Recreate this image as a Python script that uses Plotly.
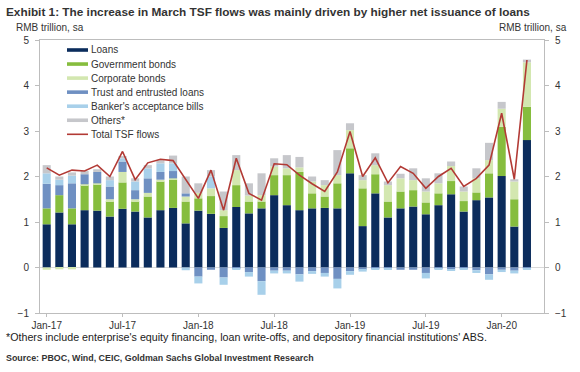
import plotly.graph_objects as go

months = ["Jan-17","Feb-17","Mar-17","Apr-17","May-17","Jun-17","Jul-17","Aug-17","Sep-17","Oct-17","Nov-17","Dec-17",
          "Jan-18","Feb-18","Mar-18","Apr-18","May-18","Jun-18","Jul-18","Aug-18","Sep-18","Oct-18","Nov-18","Dec-18",
          "Jan-19","Feb-19","Mar-19","Apr-19","May-19","Jun-19","Jul-19","Aug-19","Sep-19","Oct-19","Nov-19","Dec-19",
          "Jan-20","Feb-20","Mar-20"]

loans = [0.95,1.21,0.95,1.26,1.25,1.12,1.29,1.23,1.10,1.26,1.31,0.97,
         1.25,1.18,0.87,1.33,1.19,1.30,1.59,1.37,1.26,1.30,1.31,1.30,
         2.07,0.91,1.63,1.10,1.30,1.34,1.17,1.37,1.61,1.23,1.48,1.54,
         2.01,0.90,2.80]
gov_bonds = [0.35,0.38,0.35,0.55,0.58,0.34,0.58,0.23,0.46,0.63,0.62,0.48,
             0.27,0.39,0.26,0.48,0.26,0.15,0.44,0.66,0.84,0.33,0.25,0.55,
             0.55,0.83,0.42,0.35,0.37,0.36,0.26,0.26,0.29,0.23,0.17,0.53,
             1.08,0.60,0.73]
corp_bonds = [-0.05,-0.04,-0.04,0.02,0.02,0.04,0.23,0.04,0.08,0.04,0.03,0.11,
              0.12,0.17,0.13,0.33,0.13,0.14,0.19,0.15,0.10,0.26,0.25,0.18,
              0.40,0.18,0.20,0.36,0.29,0.22,0.24,0.22,0.33,0.21,0.31,0.29,
              0.40,0.39,0.98]
trust_loans = [0.54,0.22,0.55,0.22,0.25,0.28,0.23,0.20,0.32,0.17,0.16,0.07,
               -0.20,-0.05,-0.22,-0.03,-0.10,-0.30,-0.07,-0.07,-0.15,-0.08,-0.12,-0.25,
               -0.08,-0.05,-0.03,-0.03,-0.05,-0.05,-0.12,-0.03,-0.04,-0.03,-0.06,-0.15,
               -0.05,-0.07,-0.03]
bankers_bills = [0.23,0.12,0.17,0.00,0.00,0.14,0.07,0.19,0.22,0.19,0.17,-0.06,
                 -0.15,0.26,-0.16,-0.02,-0.10,-0.30,-0.06,-0.06,-0.16,-0.06,-0.08,-0.21,
                 -0.08,-0.04,-0.02,-0.02,0.00,0.00,-0.12,-0.02,-0.03,-0.02,-0.06,-0.12,
                 -0.05,-0.06,-0.02]
others = [0.18,0.07,0.07,0.07,0.06,0.08,0.05,0.07,0.07,0.07,0.17,0.37,
          0.21,0.14,0.41,0.33,0.27,0.48,0.18,0.29,0.23,0.11,0.11,0.55,
          0.15,0.11,0.26,0.08,0.10,0.26,0.29,0.22,0.10,0.11,0.22,0.38,
          0.15,0.05,0.06]
total_tsf = [2.19,2.03,2.14,2.12,2.25,2.00,2.55,1.93,2.30,2.38,2.35,1.93,
             1.52,2.14,1.26,2.40,1.63,1.48,2.28,2.26,2.03,1.84,1.67,2.10,
             2.99,2.00,2.41,1.86,2.22,2.07,1.74,2.00,2.18,1.78,1.96,2.25,
             3.39,1.94,4.56]

series_names = ["Loans","Government bonds","Corporate bonds","Trust and entrusted loans",
                "Banker's acceptance bills","Others*"]
line_name = "Total TSF flows"
tick_labels = ["Jan-17","Jul-17","Jan-18","Jul-18","Jan-19","Jul-19","Jan-20"]
y_ticks = [-1,0,1,2,3,4,5]

colors = ["#0b2c5c","#86bd3e","#d3e7b0","#6f90c2","#a8d0ea","#c6c7cb"]
line_color = "#b23a35"

W, H = 580, 372
# plot-area edges in window pixels
PL, PR, PT, PB = 40, 544, 40, 313
L, R, T, B = PL, W - PR, PT, H - PB
pw, ph = W - L - R, H - T - B

def fx(x):
    return (x - L) / pw

def fy(y):
    return (H - B - y) / ph

fig = go.Figure()
for name, vals, col in zip(series_names,
                           [loans, gov_bonds, corp_bonds, trust_loans, bankers_bills, others],
                           colors):
    fig.add_trace(go.Bar(x=months, y=vals, name=name, marker=dict(color=col, line=dict(width=0)),
                         showlegend=False))
fig.add_trace(go.Scatter(x=months, y=total_tsf, name=line_name, mode="lines",
                         line=dict(color=line_color, width=1.6), yaxis="y2", showlegend=False))

font_main = "Liberation Sans, Arial, sans-serif"
axis_col = "#bdbdbd"
tick_font = dict(family=font_main, size=10, color="#333333")

fig.update_layout(
    width=W, height=H,
    margin=dict(l=L, r=R, t=T, b=B, pad=0),
    paper_bgcolor="white", plot_bgcolor="white",
    barmode="relative", bargap=0.36,
    font=dict(family=font_main, size=10, color="#222222"),
    xaxis=dict(type="category", range=[-0.53, 39.35], tickmode="array",
               tickvals=tick_labels, ticktext=tick_labels, showgrid=False,
               showline=True, linecolor=axis_col, linewidth=1, mirror=True,
               ticks="outside", ticklen=3, tickcolor=axis_col, tickfont=tick_font,
               zeroline=False),
    yaxis=dict(range=[-1, 5], tickvals=y_ticks, showgrid=False, showline=True,
               linecolor=axis_col, linewidth=1, ticks="outside", ticklen=4,
               tickcolor=axis_col, tickfont=tick_font, zeroline=True,
               zerolinecolor="#d9d9d9", zerolinewidth=1, ticklabelstandoff=4),
    yaxis2=dict(range=[-1, 5], tickvals=y_ticks, overlaying="y", side="right",
                showgrid=False, showline=True, linecolor=axis_col, linewidth=1,
                ticks="outside", ticklen=4, tickcolor=axis_col, tickfont=tick_font,
                zeroline=False, ticklabelstandoff=4),
    showlegend=False,
)

ann = []
shapes = []
ann.append(dict(text="<b>Exhibit 1: The increase in March TSF flows was mainly driven by higher net issuance of loans</b>",
                x=fx(4), y=fy(12), xref="paper", yref="paper", xanchor="left", yanchor="middle",
                showarrow=False, font=dict(family=font_main, size=11.8, color="#333333")))
ann.append(dict(text="RMB trillion, sa", x=fx(14), y=fy(28), xref="paper", yref="paper",
                xanchor="left", yanchor="middle", showarrow=False,
                font=dict(family=font_main, size=10, color="#333333")))
ann.append(dict(text="RMB trillion, sa", x=fx(569), y=fy(28), xref="paper", yref="paper",
                xanchor="right", yanchor="middle", showarrow=False,
                font=dict(family=font_main, size=10, color="#333333")))
ann.append(dict(text="*Others include enterprise's equity financing, loan write-offs, and depository financial institutions' ABS.",
                x=fx(4), y=fy(337), xref="paper", yref="paper", xanchor="left", yanchor="middle",
                showarrow=False, font=dict(family=font_main, size=10.7, color="#222222")))
ann.append(dict(text="<b>Source: PBOC, Wind, CEIC, Goldman Sachs Global Investment Research</b>",
                x=fx(4), y=fy(358), xref="paper", yref="paper", xanchor="left", yanchor="middle",
                showarrow=False, font=dict(family=font_main, size=8.9, color="#333333")))

# manual legend
leg_names = series_names + [line_name]
leg_cols = colors + [line_color]
for i, (nm, col) in enumerate(zip(leg_names, leg_cols)):
    yc = 50 + i * 14.05
    if i < len(series_names):
        shapes.append(dict(type="rect", xref="paper", yref="paper",
                           x0=fx(67), x1=fx(88), y0=fy(yc + 1.8), y1=fy(yc - 1.8),
                           fillcolor=col, line=dict(width=0)))
    else:
        shapes.append(dict(type="line", xref="paper", yref="paper",
                           x0=fx(67), x1=fx(88), y0=fy(yc), y1=fy(yc),
                           line=dict(color=col, width=1.6)))
    ann.append(dict(text=nm, x=fx(89), y=fy(yc), xref="paper", yref="paper",
                    xanchor="left", yanchor="middle", showarrow=False,
                    font=dict(family=font_main, size=10, color="#333333")))

fig.update_layout(annotations=ann, shapes=shapes)
fig.write_html("out.html", config={"displayModeBar": False},
               post_script="document.body.style.margin='0';document.body.style.padding='0';")
